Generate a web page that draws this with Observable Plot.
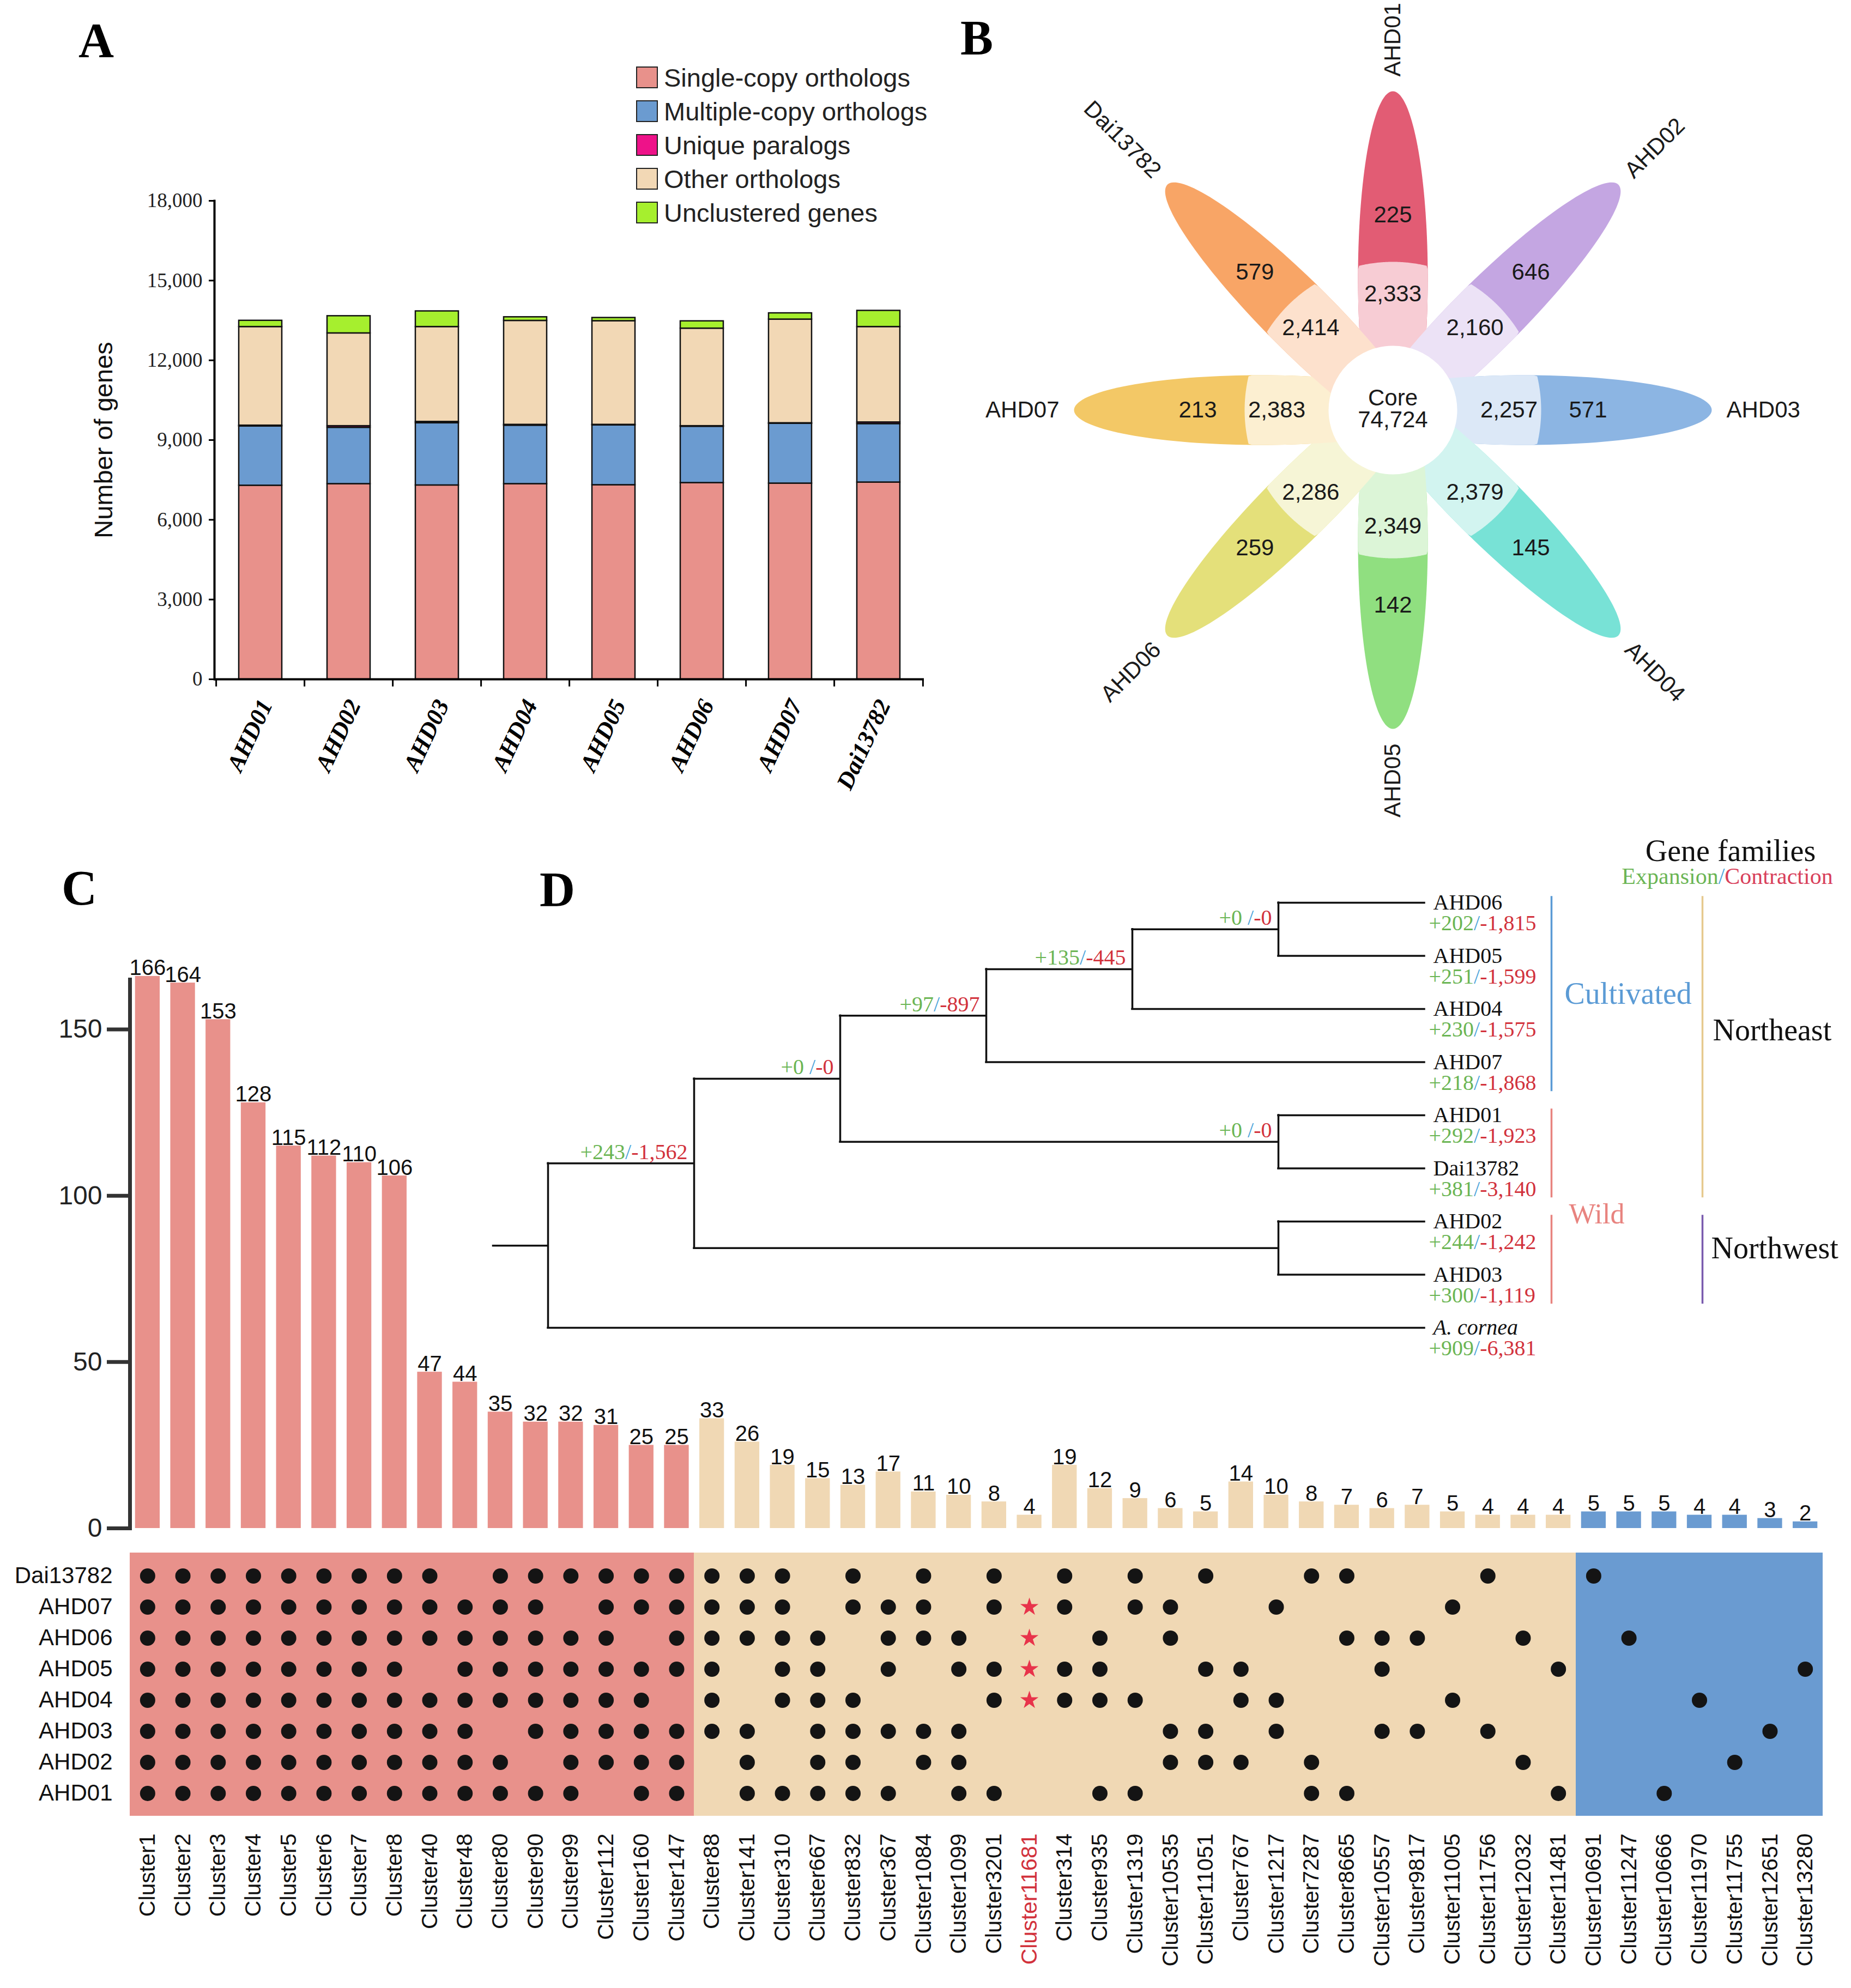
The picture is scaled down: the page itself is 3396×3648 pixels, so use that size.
<!DOCTYPE html>
<html><head><meta charset="utf-8">
<script src="https://cdn.jsdelivr.net/npm/d3@7"></script>
<script src="https://cdn.jsdelivr.net/npm/@observablehq/plot@0.6"></script>
<style>
html,body{margin:0;padding:0;background:#fff;}
#page{position:relative;width:3396px;height:3648px;overflow:hidden;background:#fff;}
.abs{position:absolute;}
.abs svg{display:block;}
.letter{position:absolute;font-family:"Liberation Serif","Times New Roman",serif;font-weight:bold;font-size:90px;line-height:1;color:#000;}
.ctext{position:absolute;transform:translate(-50%,-50%);font-family:"Liberation Serif","Times New Roman",serif;line-height:1;white-space:nowrap;}
</style></head><body><div id="page"></div>
<script>
// ---------------- DATA ----------------
// Panel A
const samplesA = ["AHD01","AHD02","AHD03","AHD04","AHD05","AHD06","AHD07","Dai13782"];
const geneCategories = ["Single-copy orthologs","Multiple-copy orthologs","Unique paralogs","Other orthologs","Unclustered genes"];
const singleCopy     = [7290,7350,7300,7350,7310,7390,7370,7410];
const multipleCopy   = [2230,2120,2340,2200,2250,2120,2250,2200];
const uniqueParalogs = [30,60,50,30,20,20,20,60];
const otherOrthologs = [3710,3490,3570,3910,3900,3670,3900,3590];
const unclustered    = [235,647,588,137,120,274,235,608];
const categoryColors = ["#E8918B","#6B9BD0","#EE1289","#F2D8B5","#A6EF2E"];
const yTicksA = [0,3000,6000,9000,12000,15000,18000];

// Panel B
const petalSamples   = ["AHD01","AHD02","AHD03","AHD04","AHD05","AHD06","AHD07","Dai13782"];
const uniqueFamilies = [225,646,571,145,142,259,213,579];
const sharedFamilies = [2333,2160,2257,2379,2349,2286,2383,2414];
const coreFamilies   = 74724;
const petalOuterColors = ["#E25C74","#C4A6E2","#8CB5E3","#78E2D6","#90DF80","#E4E07A","#F3C866","#F8A566"];
const petalInnerColors = ["#F7CCD4","#ECE2F6","#DCE8F7","#D2F4F0","#DCF5D7","#F6F5D6","#FCEFD1","#FDE1CD"];

// Panel C
const sharedClusters = ["Cluster1","Cluster2","Cluster3","Cluster4","Cluster5","Cluster6","Cluster7","Cluster8","Cluster40","Cluster48","Cluster80","Cluster90","Cluster99","Cluster112","Cluster160","Cluster147"];
const sharedSizes = [166,164,153,128,115,112,110,106,47,44,35,32,32,31,25,25];
const dispensableClusters = ["Cluster88","Cluster141","Cluster310","Cluster667","Cluster832","Cluster367","Cluster1084","Cluster1099","Cluster3201","Cluster11681","Cluster314","Cluster935","Cluster1319","Cluster10535","Cluster11051","Cluster767","Cluster1217","Cluster7287","Cluster8665","Cluster10557","Cluster9817","Cluster11005","Cluster11756","Cluster12032","Cluster11481"];
const dispensableSizes = [33,26,19,15,13,17,11,10,8,4,19,12,9,6,5,14,10,8,7,6,7,5,4,4,4];
const specificClusters = ["Cluster10691","Cluster11247","Cluster10666","Cluster11970","Cluster11755","Cluster12651","Cluster13280"];
const specificSizes = [5,5,5,4,4,3,2];
const clusterGroupNames = ["Shared","Dispensable","Specific"];
const clusterGroupColors = ["#E8918B","#F0D8B4","#6A9BD1"];
const highlightedCluster = "Cluster11681";
const yTicksC = [0,50,100,150];
const matrixSamples = ["Dai13782","AHD07","AHD06","AHD05","AHD04","AHD03","AHD02","AHD01"];
// 0 = absent, 1 = present, 2 = present (highlighted)
const presenceDai13782 = [1,1,1,1,1,1,1,1,1,0,1,1,1,1,1,1, 1,1,1,0,1,0,1,0,1,0,1,0,1,0,1,0,0,1,1,0,0,0,1,0,0, 1,0,0,0,0,0,0];
const presenceAHD07    = [1,1,1,1,1,1,1,1,1,1,1,1,0,1,1,1, 1,1,1,0,1,1,1,0,1,2,1,0,1,1,0,0,1,0,0,0,0,1,0,0,0, 0,0,0,0,0,0,0];
const presenceAHD06    = [1,1,1,1,1,1,1,1,1,1,1,1,1,1,0,1, 1,1,1,1,0,1,1,1,0,2,0,1,0,1,0,0,0,0,1,1,1,0,0,1,0, 0,1,0,0,0,0,0];
const presenceAHD05    = [1,1,1,1,1,1,1,1,0,1,1,1,1,1,1,1, 1,0,1,1,0,1,0,1,1,2,1,1,0,0,1,1,0,0,0,1,0,0,0,0,1, 0,0,0,0,0,0,1];
const presenceAHD04    = [1,1,1,1,1,1,1,1,1,1,1,1,1,1,1,0, 1,0,1,1,1,0,0,0,1,2,1,1,1,0,0,1,1,0,0,0,0,1,0,0,0, 0,0,0,1,0,0,0];
const presenceAHD03    = [1,1,1,1,1,1,1,1,1,1,0,1,1,1,1,1, 1,1,0,1,1,1,1,1,0,0,0,0,0,1,1,0,1,0,0,1,1,0,1,0,0, 0,0,0,0,0,1,0];
const presenceAHD02    = [1,1,1,1,1,1,1,1,1,1,1,0,1,1,1,1, 0,1,0,1,1,0,1,1,0,0,0,0,0,1,1,1,0,1,0,0,0,0,0,1,0, 0,0,0,0,1,0,0];
const presenceAHD01    = [1,1,1,1,1,1,1,1,1,1,1,1,1,0,1,1, 0,1,1,1,1,1,0,1,1,0,0,1,1,0,0,0,0,1,1,0,0,0,0,0,1, 0,0,1,0,0,0,0];
const presenceRows = [presenceDai13782,presenceAHD07,presenceAHD06,presenceAHD05,presenceAHD04,presenceAHD03,presenceAHD02,presenceAHD01];

// Panel D
const treeLeaves = ["AHD06","AHD05","AHD04","AHD07","AHD01","Dai13782","AHD02","AHD03","A. cornea"];
const outgroup = "A. cornea";
const leafExpansion   = [202,251,230,218,292,381,244,300,909];
const leafContraction = [1815,1599,1575,1868,1923,3140,1242,1119,6381];
const leafDepth = 6;
const rootEdge = 0.375;
const cladeNames    = ["N5","N4","N3","NAD","NW","N2","N1","root"];
const cladeChildren = [["AHD06","AHD05"],["N5","AHD04"],["N4","AHD07"],["AHD01","Dai13782"],["AHD02","AHD03"],["N3","NAD"],["N2","NW"],["N1","A. cornea"]];
const cladeDepth       = [5,4,3,5,5,2,1,0];
const cladeExpansion   = [0,135,97,0,null,0,243,null];
const cladeContraction = [0,445,897,0,null,0,1562,null];
const bracketGroups = ["Cultivated","Wild","Wild","Northeast","Northwest"];
const bracketFirst  = ["AHD06","AHD01","AHD02","AHD06","AHD02"];
const bracketLast   = ["AHD07","Dai13782","AHD03","Dai13782","AHD03"];
const groupLabels   = ["Cultivated","Wild","Northeast","Northwest"];
const groupColors   = ["#5B9BD5","#E8837F","#E6C98E","#7A5BAE"];
const groupTextColors = ["#5B9BD5","#E8837F","#111111","#111111"];

// ---------------- HELPERS ----------------
const serif = "'Liberation Serif', 'Times New Roman', serif";
const sans = "'Liberation Sans', Arial, Helvetica, sans-serif";
const fmt = d3.format(",");
const page = document.getElementById("page");
function place(el, left, top, w, h) {
  const div = document.createElement("div");
  div.className = "abs";
  div.style.cssText = `left:${left}px;top:${top}px;width:${w}px;height:${h}px;`;
  div.appendChild(el);
  page.appendChild(div);
}
const ctx = document.createElement("canvas").getContext("2d");
function tw(s, size, family) { ctx.font = `${size}px ${family}`; return ctx.measureText(s).width; }
const green = "#6BB554", red = "#D2323C", slashBlue = "#4FA6DB";

// ---------------- PANEL A ----------------
{
  const countsByCategory = [singleCopy, multipleCopy, uniqueParalogs, otherOrthologs, unclustered];
  const rows = samplesA.flatMap((s, i) => geneCategories.map((c, j) => ({sample: s, category: c, count: countsByCategory[j][i]})));
  const W = 1740, H = 1500, mL = 393, mR = 45, mT = 368, mB = 254;
  const step = (W - mL - mR) / samplesA.length;
  const chart = Plot.plot({
    width: W, height: H, marginLeft: mL, marginRight: mR, marginTop: mT, marginBottom: mB,
    style: {fontFamily: sans, background: "white"},
    x: {domain: samplesA, paddingInner: 0.515, paddingOuter: 0.2575, axis: null},
    y: {domain: [0, 18000], axis: null},
    color: {domain: geneCategories, range: categoryColors},
    marks: [
      Plot.barY(rows, {x: "sample", y: "count", fill: "category", stroke: "#111", strokeWidth: 2.5}),
      Plot.ruleY([0], {stroke: "#000", strokeWidth: 4}),
      Plot.ruleX(samplesA, {x: d => d, y1: 0, y2: -280, dx: -step / 2, stroke: "#000", strokeWidth: 3}),
      Plot.ruleX([samplesA[samplesA.length - 1]], {x: d => d, y1: 0, y2: -280, dx: step / 2, stroke: "#000", strokeWidth: 3}),
      Plot.frame({anchor: "left", stroke: "#000", strokeWidth: 4}),
      Plot.axisY({ticks: yTicksA, tickFormat: fmt, tickSize: 10, tickPadding: 12, fontSize: 37, fontFamily: serif, fill: "#222", stroke: "#000", strokeWidth: 3, label: null}),
      Plot.text(["Number of genes"], {text: d => d, frameAnchor: "left", textAnchor: "middle", lineAnchor: "middle", rotate: -90, dx: -203, fontSize: 47, fontFamily: sans, fill: "#111"}),
      Plot.text(samplesA, {x: d => d, text: d => d, frameAnchor: "bottom", dy: 40, dx: 10, rotate: -65, textAnchor: "end", lineAnchor: "middle", fontSize: 44, fontFamily: serif, fontWeight: "bold", fontStyle: "italic", fill: "#000"})
    ]
  });
  place(chart, 0, 0, W, H);
  // legend
  const legend = document.createElement("div");
  legend.style.cssText = "position:absolute;left:1167px;top:111px;";
  geneCategories.forEach((c, i) => {
    const row = document.createElement("div");
    row.style.cssText = `display:flex;align-items:center;height:62px;font-family:${sans};font-size:47px;color:#222;white-space:nowrap;`;
    const sw = document.createElement("span");
    sw.style.cssText = `display:inline-block;width:40px;height:40px;box-sizing:border-box;border:2.5px solid #222;background:${categoryColors[i]};margin-right:11px;`;
    const t = document.createElement("span"); t.textContent = c; t.style.lineHeight = "1";
    row.appendChild(sw); row.appendChild(t); legend.appendChild(row);
  });
  page.appendChild(legend);
}

// ---------------- PANEL B ----------------
{
  const W = 1656, H = 1500, cx = 815, cy = 752;
  const shape = {inner: -100, tip: 585, halfWidth: 64, split: 272, core: 118, outerText: 358, innerText: 213, label: 612};
  const petals = petalSamples.map((s, i) => ({sample: s, theta: (90 - 45 * i) * Math.PI / 180, i}));
  function petalPoints(theta, clampR) {
    const d = (shape.inner + shape.tip) / 2, a = (shape.tip - shape.inner) / 2, b = shape.halfWidth;
    return d3.range(0, 145).map(k => {
      const t = 2 * Math.PI * k / 144;
      const s = d + a * Math.cos(t), w = b * Math.sin(t);
      let x = s * Math.cos(theta) - w * Math.sin(theta), y = s * Math.sin(theta) + w * Math.cos(theta);
      if (clampR) { const r = Math.hypot(x, y); if (r > clampR) { x *= clampR / r; y *= clampR / r; } }
      return {x, y};
    });
  }
  const marks = [];
  petals.forEach(p => marks.push(Plot.line(petalPoints(p.theta, null), {x: "x", y: "y", fill: petalOuterColors[p.i], stroke: "none"})));
  petals.forEach(p => marks.push(Plot.line(petalPoints(p.theta, shape.split), {x: "x", y: "y", fill: petalInnerColors[p.i], stroke: "none"})));
  marks.push(Plot.dot([0], {x: 0, y: 0, r: shape.core, fill: "white", stroke: "none"}));
  const pos = (p, r) => ({x: r * Math.cos(p.theta), y: r * Math.sin(p.theta)});
  marks.push(Plot.text(petals, {x: p => pos(p, shape.outerText).x, y: p => pos(p, shape.outerText).y, text: p => fmt(uniqueFamilies[p.i]), fontSize: 42, fill: "#1a1a1a"}));
  marks.push(Plot.text(petals, {x: p => pos(p, shape.innerText).x, y: p => pos(p, shape.innerText).y, text: p => fmt(sharedFamilies[p.i]), fontSize: 42, fill: "#1a1a1a"}));
  marks.push(Plot.text(["Core"], {x: 0, y: 0, text: d => d, dy: -22, fontSize: 42, fill: "#1a1a1a"}));
  marks.push(Plot.text([coreFamilies], {x: 0, y: 0, text: d => fmt(d), dy: 18, fontSize: 42, fill: "#1a1a1a"}));
  const deg = p => p.theta * 180 / Math.PI;
  const isStart = p => { const a = deg(p); return a > -90 && a <= 90; };
  marks.push(Plot.text(petals.filter(isStart), {x: p => pos(p, shape.label).x, y: p => pos(p, shape.label).y, text: "sample", rotate: p => -deg(p), textAnchor: "start", fontSize: 42, fill: "#1a1a1a"}));
  marks.push(Plot.text(petals.filter(p => !isStart(p)), {x: p => pos(p, shape.label).x, y: p => pos(p, shape.label).y, text: "sample", rotate: p => 180 - deg(p), textAnchor: "end", fontSize: 42, fill: "#1a1a1a"}));
  const chart = Plot.plot({
    width: W, height: H, margin: 0,
    style: {fontFamily: sans, background: "white"},
    x: {domain: [-cx, W - cx], range: [0, W], axis: null},
    y: {domain: [-(H - cy), cy], range: [H, 0], axis: null},
    marks
  });
  place(chart, 1740, 0, W, H);
}

// ---------------- PANEL C ----------------
const clusters = [...sharedClusters, ...dispensableClusters, ...specificClusters];
const clusterSizes = [...sharedSizes, ...dispensableSizes, ...specificSizes];
const clusterGroupOf = [...sharedClusters.map(() => clusterGroupNames[0]), ...dispensableClusters.map(() => clusterGroupNames[1]), ...specificClusters.map(() => clusterGroupNames[2])];
const clusterRows = clusters.map((c, i) => ({cluster: c, size: clusterSizes[i], group: clusterGroupOf[i]}));
const mLC = 238, mRC = 52;
{
  const W = 3396, H = 1330;
  const chart = Plot.plot({
    width: W, height: H, marginLeft: mLC, marginRight: mRC, marginTop: 297, marginBottom: 26,
    style: {fontFamily: sans, background: "white"},
    x: {domain: clusters, paddingInner: 0.3, paddingOuter: 0.15, axis: null},
    y: {domain: [0, 165], axis: null},
    color: {domain: clusterGroupNames, range: clusterGroupColors},
    marks: [
      Plot.barY(clusterRows, {x: "cluster", y: "size", fill: "group"}),
      Plot.text(clusterRows, {x: "cluster", y: "size", text: d => String(d.size), lineAnchor: "bottom", dy: -2, fontSize: 40, fill: "#111"}),
      Plot.axisY({ticks: yTicksC, tickSize: 42, tickPadding: 9, stroke: "#333", strokeWidth: 7, fontSize: 48, fill: "#222", label: null}),
      Plot.frame({anchor: "left", stroke: "#333", strokeWidth: 7})
    ]
  });
  place(chart, 0, 1500, W, H);
}
{
  const W = 3396, H = 818;
  const cells = [];
  matrixSamples.forEach((s, r) => presenceRows[r].forEach((v, c) => { if (v) cells.push({sample: s, cluster: clusters[c], mark: v}); }));
  const chart = Plot.plot({
    width: W, height: H, marginLeft: mLC, marginRight: mRC, marginTop: 19, marginBottom: 316,
    style: {fontFamily: sans, background: "white"},
    x: {type: "band", domain: clusters, padding: 0, axis: null},
    y: {type: "band", domain: matrixSamples, paddingInner: 0, paddingOuter: 0.2, axis: null},
    color: {domain: clusterGroupNames, range: clusterGroupColors},
    marks: [
      Plot.cell(clusterRows, {x: "cluster", fill: "group", shapeRendering: "crispEdges"}),
      Plot.dot(cells.filter(d => d.mark === 1), {x: "cluster", y: "sample", r: 14, fill: "#141414", stroke: "none"}),
      Plot.dot(cells.filter(d => d.mark === 2), {x: "cluster", y: "sample", r: 10.5, symbol: "star", fill: "#E8334A", stroke: "none"}),
      Plot.axisY({tickSize: 0, tickPadding: 32, fontSize: 42, fill: "#111", label: null}),
      Plot.text(clusters.filter(c => c !== highlightedCluster), {x: d => d, text: d => d, frameAnchor: "bottom", dy: 32, rotate: -90, textAnchor: "end", lineAnchor: "middle", fontSize: 41, fill: "#111"}),
      Plot.text(clusters.filter(c => c === highlightedCluster), {x: d => d, text: d => d, frameAnchor: "bottom", dy: 32, rotate: -90, textAnchor: "end", lineAnchor: "middle", fontSize: 41, fill: "#D2323C"})
    ]
  });
  place(chart, 0, 2830, W, H);
}

// ---------------- PANEL D ----------------
{
  const W = 2516, H = 1000;
  const nodeY = new Map(), nodeDepth = new Map();
  treeLeaves.forEach((n, i) => { nodeY.set(n, i); nodeDepth.set(n, leafDepth); });
  cladeNames.forEach((n, i) => { nodeY.set(n, d3.mean(cladeChildren[i], c => nodeY.get(c))); nodeDepth.set(n, cladeDepth[i]); });
  const vertical = cladeNames.map((n, i) => ({x: cladeDepth[i], y1: d3.min(cladeChildren[i], c => nodeY.get(c)), y2: d3.max(cladeChildren[i], c => nodeY.get(c))}));
  const horizontal = cladeNames.flatMap((n, i) => cladeChildren[i].map(c => ({y: nodeY.get(c), x1: cladeDepth[i], x2: nodeDepth.get(c)})));
  horizontal.push({y: nodeY.get("root"), x1: -rootEdge, x2: 0});
  const FS = 40;
  const marks = [
    Plot.ruleX(vertical, {x: "x", y1: "y1", y2: "y2", stroke: "#111", strokeWidth: 3.5, strokeLinecap: "square"}),
    Plot.ruleY(horizontal, {y: "y", x1: "x1", x2: "x2", stroke: "#111", strokeWidth: 3.5, strokeLinecap: "square"})
  ];
  // branch labels
  cladeNames.forEach((n, i) => {
    if (cladeExpansion[i] == null) return;
    const row = [{x: cladeDepth[i], y: nodeY.get(n)}];
    const plus = "+" + cladeExpansion[i], minus = "-" + fmt(cladeContraction[i]);
    const gap = 12, wR = tw(minus, FS, serif), wS = tw("/", FS, serif), wSp = cladeExpansion[i] === 0 ? tw(" ", FS, serif) : 0;
    const base = {x: "x", y: "y", textAnchor: "end", lineAnchor: "bottom", dy: -8, fontSize: FS, fontFamily: serif};
    marks.push(Plot.text(row, {...base, text: () => minus, dx: -gap, fill: red}));
    marks.push(Plot.text(row, {...base, text: () => "/", dx: -gap - wR, fill: slashBlue}));
    marks.push(Plot.text(row, {...base, text: () => plus, dx: -gap - wR - wS - wSp, fill: green}));
  });
  // leaf labels
  const leafRows = treeLeaves.map((n, i) => ({name: n, x: leafDepth, y: i, i}));
  marks.push(Plot.text(leafRows.filter(d => d.name !== outgroup), {x: "x", y: "y", text: "name", dx: 16, textAnchor: "start", lineAnchor: "middle", fontSize: FS, fontFamily: serif, fill: "#111"}));
  marks.push(Plot.text(leafRows.filter(d => d.name === outgroup), {x: "x", y: "y", text: "name", dx: 16, textAnchor: "start", lineAnchor: "middle", fontSize: FS, fontFamily: serif, fontStyle: "italic", fill: "#111"}));
  leafRows.forEach(d => {
    const plus = "+" + leafExpansion[d.i], minus = "-" + fmt(leafContraction[d.i]);
    const dx0 = 8, wG = tw(plus, FS, serif), wS = tw("/", FS, serif);
    const base = {x: "x", y: "y", textAnchor: "start", lineAnchor: "middle", dy: 38, fontSize: FS, fontFamily: serif};
    marks.push(Plot.text([d], {...base, text: () => plus, dx: dx0, fill: green}));
    marks.push(Plot.text([d], {...base, text: () => "/", dx: dx0 + wG, fill: slashBlue}));
    marks.push(Plot.text([d], {...base, text: () => minus, dx: dx0 + wG + wS, fill: red}));
  });
  // group brackets
  const levelOffset = {Cultivated: 233, Wild: 233, Northeast: 510, Northwest: 510};
  const brackets = bracketGroups.map((g, i) => ({group: g, y1: treeLeaves.indexOf(bracketFirst[i]) - 0.12, y2: treeLeaves.indexOf(bracketLast[i]) + 0.55}));
  groupLabels.forEach((g, gi) => {
    marks.push(Plot.ruleX(brackets.filter(b => b.group === g), {x: leafDepth, y1: "y1", y2: "y2", dx: levelOffset[g], stroke: groupColors[gi], strokeWidth: 3.5}));
  });
  const segs = g => brackets.filter(b => b.group === g);
  const labelRows = [
    {g: "Cultivated", y: d3.mean(segs("Cultivated"), b => (b.y1 + b.y2) / 2), dx: 257, dy: 0, size: 56},
    {g: "Wild", y: (segs("Wild")[0].y2 + segs("Wild")[1].y1) / 2, dx: 265, dy: 15, size: 52},
    {g: "Northeast", y: d3.mean(segs("Northeast"), b => (b.y1 + b.y2) / 2), dx: 529, dy: -30, size: 56},
    {g: "Northwest", y: d3.mean(segs("Northwest"), b => (b.y1 + b.y2) / 2), dx: 526, dy: -20, size: 56}
  ];
  labelRows.forEach(r => {
    const gi = groupLabels.indexOf(r.g);
    marks.push(Plot.text([r], {x: leafDepth, y: "y", text: d => d.g, dx: r.dx, dy: r.dy, textAnchor: "start", lineAnchor: "middle", fontSize: r.size, fontFamily: serif, fill: groupTextColors[gi]}));
  });
  const chart = Plot.plot({
    width: W, height: H, marginLeft: 125, marginRight: 783, marginTop: 156, marginBottom: 64,
    style: {fontFamily: serif, background: "transparent"},
    x: {domain: [0, leafDepth], range: [125, 1733], axis: null},
    y: {domain: [0, treeLeaves.length - 1], range: [156, 936], axis: null},
    marks
  });
  place(chart, 880, 1500, W, H);
}

// ---------------- HEADERS & PANEL LETTERS ----------------
function letter(t, left, top) { const d = document.createElement("div"); d.className = "letter"; d.textContent = t; d.style.left = left + "px"; d.style.top = top + "px"; page.appendChild(d); }
letter("A", 144, 30); letter("B", 1762, 25); letter("C", 113, 1585); letter("D", 990, 1588);
{
  const g = document.createElement("div"); g.className = "ctext"; g.style.left = "3175px"; g.style.top = "1561px"; g.style.fontSize = "56px"; g.style.color = "#111"; g.textContent = "Gene families"; page.appendChild(g);
  const e = document.createElement("div"); e.className = "ctext"; e.style.left = "3169px"; e.style.top = "1608px"; e.style.fontSize = "42px";
  e.innerHTML = `<span style="color:${green}">Expansion</span><span style="color:${slashBlue}">/</span><span style="color:#D8405A">Contraction</span>`;
  page.appendChild(e);
}
</script></body></html>
